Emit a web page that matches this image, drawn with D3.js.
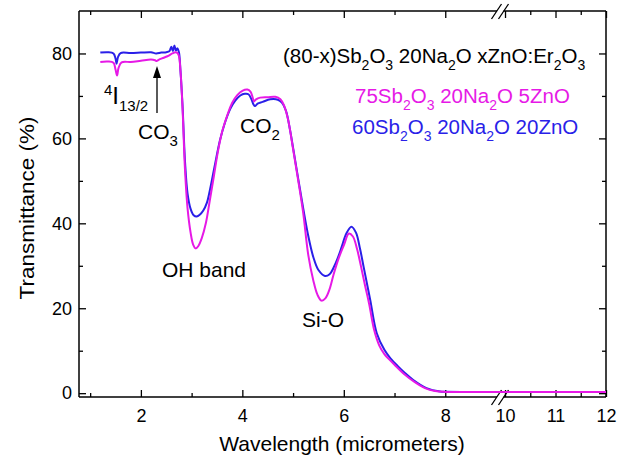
<!DOCTYPE html>
<html>
<head>
<meta charset="utf-8">
<script src="https://cdn.jsdelivr.net/npm/d3@7"></script>
<style>
  body { margin: 0; background: #fff; }
  svg text { font-family: "Liberation Sans", Arial, sans-serif; }
</style>
</head>
<body>
<div id="chart"></div>
<script>
// Transmission spectra of two Sb2O3-Na2O-ZnO glasses

// 75Sb2O3 20Na2O 5ZnO (magenta)
var magWl = [1.2, 1.35, 1.46, 1.5, 1.53, 1.56, 1.62, 1.8, 2.0, 2.2,
  2.28, 2.31, 2.35, 2.45, 2.55, 2.62, 2.68, 2.72, 2.75, 2.78,
  2.82, 2.87, 2.92, 2.98, 3.03, 3.08, 3.13, 3.2, 3.28, 3.36,
  3.44, 3.52, 3.6, 3.7, 3.8, 3.9, 4.0, 4.1, 4.16, 4.2,
  4.23, 4.27, 4.35, 4.5, 4.65, 4.75, 4.82, 4.9, 5.0, 5.1,
  5.2, 5.3, 5.4, 5.48, 5.56, 5.64, 5.72, 5.8, 5.9, 6.0,
  6.1, 6.18, 6.26, 6.34, 6.42, 6.5, 6.6, 6.7, 6.8, 6.9,
  7.0, 7.2, 7.4, 7.6, 7.8, 8.0, 8.5, 9.0, 10.0, 11.0, 12.0];
var magT = [78.0, 78.1, 77.8, 76.2, 74.8, 76.6, 77.9, 78.0, 78.3, 78.6,
  78.4, 78.2, 78.5, 79.0, 79.5, 80.0, 80.3, 80.1, 79.4, 76.0,
  67.4, 52.5, 43.5, 37.8, 35.0, 34.1, 34.6, 36.5, 40.0, 45.5,
  51.2, 57.0, 61.5, 65.3, 68.4, 70.2, 71.2, 71.5, 71.0, 69.8,
  68.7, 69.2, 69.6, 69.7, 69.8, 69.2, 67.8, 64.5, 57.5, 50.2,
  42.4, 32.5, 26.5, 23.2, 21.8, 22.4, 24.5, 28.0, 31.8, 34.8,
  37.6, 36.9, 34.0, 29.8, 25.3, 21.0, 14.8, 11.2, 9.2, 7.9,
  6.7, 4.4, 2.6, 1.2, 0.5, 0.3, 0.3, 0.3, 0.3, 0.3, 0.3];

// 60Sb2O3 20Na2O 20ZnO (blue)
var blueWl = [1.2, 1.35, 1.46, 1.5, 1.52, 1.55, 1.6, 1.8, 2.0, 2.2,
  2.3, 2.4, 2.5, 2.56, 2.6, 2.63, 2.66, 2.69, 2.72, 2.75,
  2.78, 2.82, 2.87, 2.92, 2.98, 3.04, 3.1, 3.16, 3.23, 3.3,
  3.36, 3.45, 3.56, 3.66, 3.76, 3.86, 3.96, 4.05, 4.12, 4.18,
  4.22, 4.25, 4.3, 4.4, 4.55, 4.7, 4.78, 4.86, 4.94, 5.0,
  5.1, 5.2, 5.3, 5.4, 5.5, 5.63, 5.72, 5.8, 5.88, 5.96,
  6.05, 6.15, 6.24, 6.32, 6.39, 6.52, 6.65, 6.8, 6.92, 7.07,
  7.2, 7.37, 7.63, 7.9, 8.0, 8.5, 9.0, 10.0, 11.0, 12.0];
var blueT = [80.2, 80.3, 80.0, 78.8, 77.6, 79.2, 80.1, 80.1, 80.2, 80.3,
  80.0, 80.2, 80.3, 80.5, 81.6, 80.6, 81.9, 80.7, 81.2, 80.3,
  76.0, 68.0, 54.5, 47.0, 43.4, 41.9, 41.6, 42.0, 43.0, 44.8,
  47.8, 53.2, 59.6, 63.8, 66.9, 68.9, 70.1, 70.5, 70.4, 69.2,
  68.0, 67.6, 68.2, 68.6, 69.2, 69.1, 68.4, 66.5, 62.0, 57.8,
  50.6, 43.5, 37.0, 32.0, 29.0, 27.6, 28.0, 29.6, 31.8, 34.5,
  37.6, 39.2, 37.8, 34.0, 29.8, 22.0, 14.1, 10.2, 8.2, 6.3,
  4.8, 3.1, 1.2, 0.4, 0.35, 0.3, 0.3, 0.3, 0.3, 0.3];

// ticks
var xMajorLeft = [2, 4, 6, 8];
var xMinorLeft = [1, 3, 5, 7];
var xMajorRight = [10, 11, 12];
var xMinorRight = [10.5, 11.5];
var yMajor = [0, 20, 40, 60, 80];
var yMinor = [10, 30, 50, 70];

var magColor = "#e619e6";
var blueColor = "#2a1fe8";

var svgWidth = 622, svgHeight = 456;
var plot = { left: 79, right: 606, top: 11, bottom: 397, breakL: 497, breakR: 503.5 };

var svg = d3.select("#chart").append("svg")
  .attr("width", svgWidth)
  .attr("height", svgHeight);

// broken x axis: two linear pieces
var xLeft = d3.scaleLinear().domain([0.78, 9.02]).range([plot.left, plot.breakL]);
var xRight = d3.scaleLinear().domain([9.97, 12]).range([plot.breakR, plot.right]);
function xPos(w) { return w < 9.5 ? xLeft(w) : xRight(w); }

var y = d3.scaleLinear().domain([-0.9, 90]).range([plot.bottom, plot.top]);

function styleAxis(g) {
  g.select(".domain").remove();
  g.selectAll(".tick line").attr("stroke", "#000").attr("stroke-width", 1.3);
  g.selectAll(".tick text").attr("font-size", 18).attr("fill", "#000")
    .attr("font-family", "Liberation Sans, Arial, sans-serif");
}

// bottom axis
[[xLeft, xMajorLeft, xMinorLeft], [xRight, xMajorRight, xMinorRight]].forEach(function (p) {
  svg.append("g")
    .attr("transform", "translate(0," + plot.bottom + ")")
    .call(d3.axisBottom(p[0]).tickValues(p[1]).tickSizeInner(-7).tickSizeOuter(0).tickPadding(12).tickFormat(d3.format("d")))
    .call(styleAxis);
  svg.append("g")
    .attr("transform", "translate(0," + plot.bottom + ")")
    .call(d3.axisBottom(p[0]).tickValues(p[2]).tickSizeInner(-4).tickSizeOuter(0).tickFormat(""))
    .call(styleAxis);
  // top axis, mirrored ticks
  svg.append("g")
    .attr("transform", "translate(0," + plot.top + ")")
    .call(d3.axisTop(p[0]).tickValues(p[1]).tickSizeInner(-7).tickSizeOuter(0).tickFormat(""))
    .call(styleAxis);
  svg.append("g")
    .attr("transform", "translate(0," + plot.top + ")")
    .call(d3.axisTop(p[0]).tickValues(p[2]).tickSizeInner(-4).tickSizeOuter(0).tickFormat(""))
    .call(styleAxis);
});

// left / right axes
svg.append("g")
  .attr("transform", "translate(" + plot.left + ",0)")
  .call(d3.axisLeft(y).tickValues(yMajor).tickSizeInner(-7).tickSizeOuter(0).tickPadding(7))
  .call(styleAxis);
svg.append("g")
  .attr("transform", "translate(" + plot.left + ",0)")
  .call(d3.axisLeft(y).tickValues(yMinor).tickSizeInner(-4).tickSizeOuter(0).tickFormat(""))
  .call(styleAxis);
svg.append("g")
  .attr("transform", "translate(" + plot.right + ",0)")
  .call(d3.axisRight(y).tickValues(yMajor).tickSizeInner(-7).tickSizeOuter(0).tickFormat(""))
  .call(styleAxis);
svg.append("g")
  .attr("transform", "translate(" + plot.right + ",0)")
  .call(d3.axisRight(y).tickValues(yMinor).tickSizeInner(-4).tickSizeOuter(0).tickFormat(""))
  .call(styleAxis);

// frame lines (gapped at the break)
var frame = svg.append("g").attr("stroke", "#000").attr("stroke-width", 1.5);
[plot.top, plot.bottom].forEach(function (yy) {
  frame.append("line").attr("x1", plot.left).attr("x2", plot.breakL).attr("y1", yy).attr("y2", yy);
  frame.append("line").attr("x1", plot.breakR).attr("x2", plot.right).attr("y1", yy).attr("y2", yy);
});
frame.append("line").attr("x1", plot.left).attr("x2", plot.left).attr("y1", plot.top).attr("y2", plot.bottom);
frame.append("line").attr("x1", plot.right).attr("x2", plot.right).attr("y1", plot.top).attr("y2", plot.bottom);

// break marks "//"
[plot.top, plot.bottom].forEach(function (yy) {
  [plot.breakL - 0.5, plot.breakR].forEach(function (cx) {
    svg.append("line")
      .attr("x1", cx - 5).attr("y1", yy + 8)
      .attr("x2", cx + 5).attr("y2", yy - 7)
      .attr("stroke", "#000").attr("stroke-width", 1.3);
  });
});

// curves
var line = d3.line()
  .x(function (d) { return xPos(d[0]); })
  .y(function (d) { return y(d[1]); })
  .curve(d3.curveCatmullRom.alpha(0.5));

svg.append("path")
  .datum(d3.zip(blueWl, blueT))
  .attr("fill", "none")
  .attr("stroke", blueColor)
  .attr("stroke-width", 2)
  .attr("d", line);

svg.append("path")
  .datum(d3.zip(magWl, magT))
  .attr("fill", "none")
  .attr("stroke", magColor)
  .attr("stroke-width", 2)
  .attr("d", line);

// axis titles
svg.append("text")
  .attr("x", 342).attr("y", 451)
  .attr("text-anchor", "middle")
  .attr("font-size", 21)
  .text("Wavelength (micrometers)");

svg.append("text")
  .attr("transform", "translate(34,208) rotate(-90)")
  .attr("text-anchor", "middle")
  .attr("font-size", 21)
  .attr("textLength", 183)
  .attr("lengthAdjust", "spacingAndGlyphs")
  .text("Transmittance (%)");

// text with sub/superscripts: parts = [[string, "n"|"sub"|"sup"], ...]
function richText(x, yy, parts, color, size, subSize) {
  var t = svg.append("text")
    .attr("x", x).attr("y", yy)
    .attr("font-size", size)
    .attr("fill", color);
  var shift = 0;
  parts.forEach(function (p) {
    var target = p[1] === "sub" ? 7 : p[1] === "sup" ? -9 : 0;
    t.append("tspan")
      .attr("dy", target - shift)
      .attr("font-size", p[1] === "n" ? size : subSize)
      .text(p[0]);
    shift = target;
  });
  return t;
}

richText(283, 63, [["(80-x)Sb", "n"], ["2", "sub"], ["O", "n"], ["3", "sub"], [" 20Na", "n"], ["2", "sub"],
  ["O xZnO:Er", "n"], ["2", "sub"], ["O", "n"], ["3", "sub"]], "#000", 20.5, 14);
richText(355, 103, [["75Sb", "n"], ["2", "sub"], ["O", "n"], ["3", "sub"], [" 20Na", "n"], ["2", "sub"],
  ["O 5ZnO", "n"]], magColor, 20.5, 14);
richText(352, 134, [["60Sb", "n"], ["2", "sub"], ["O", "n"], ["3", "sub"], [" 20Na", "n"], ["2", "sub"],
  ["O 20ZnO", "n"]], blueColor, 20.5, 14);

// band annotations
richText(104, 104, [["4", "sup"], ["I", "n"], ["13/2", "sub"]], "#000", 24, 15);
richText(138, 139, [["CO", "n"], ["3", "sub"]], "#000", 21, 15);
richText(240, 133, [["CO", "n"], ["2", "sub"]], "#000", 21, 15);
svg.append("text").attr("x", 162).attr("y", 277).attr("font-size", 21).text("OH band");
svg.append("text").attr("x", 302).attr("y", 327).attr("font-size", 21).text("Si-O");

// arrow to CO3 dip
svg.append("line")
  .attr("x1", 157).attr("x2", 157)
  .attr("y1", 113).attr("y2", 76)
  .attr("stroke", "#000").attr("stroke-width", 1.3);
svg.append("path")
  .attr("d", "M157,66 L161,78 L153,78 Z")
  .attr("fill", "#000");
</script>
</body>
</html>
